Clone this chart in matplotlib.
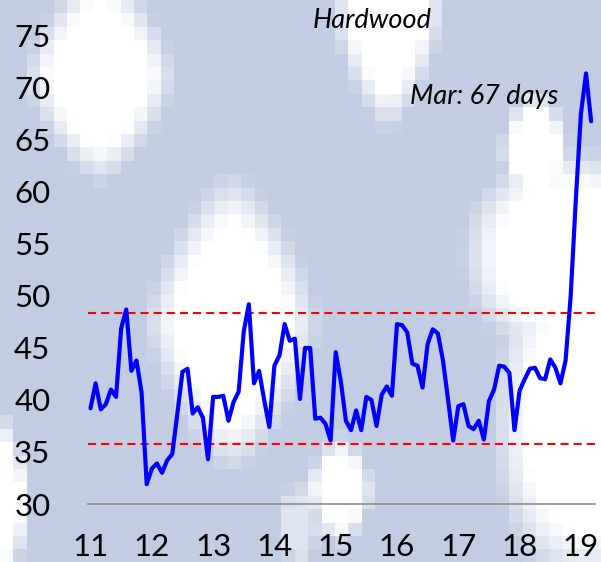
import numpy as np
import matplotlib
matplotlib.use("Agg")
import matplotlib.pyplot as plt
from matplotlib.colors import to_rgb

# ---------------- data ----------------
start_year = 11          # Jan 2011 (axis shows two-digit years)
days_on_market = [
    39.2, 41.6, 39.1, 39.6, 41.0, 40.3, 46.9, 48.7, 42.8, 43.8, 40.7, 31.9,   # 2011
    33.4, 33.9, 33.0, 34.2, 34.8, 38.7, 42.7, 43.0, 38.7, 39.3, 38.3, 34.3,   # 2012
    40.3, 40.3, 40.4, 38.0, 39.8, 40.8, 46.6, 49.2, 41.6, 42.8, 40.0, 37.4,   # 2013
    43.3, 44.3, 47.3, 45.7, 45.9, 40.1, 45.0, 45.0, 38.2, 38.3, 37.7, 36.1,   # 2014
    44.6, 41.8, 38.0, 37.1, 39.0, 37.1, 40.3, 40.0, 37.5, 40.5, 41.3, 40.4,   # 2015
    47.3, 47.2, 46.5, 43.5, 43.3, 41.2, 45.4, 46.8, 46.4, 43.8, 40.0, 36.1,   # 2016
    39.4, 39.6, 37.5, 37.2, 38.0, 36.2, 39.9, 41.0, 43.3, 43.2, 42.6, 37.1,   # 2017
    40.9, 42.0, 43.0, 43.1, 42.1, 42.0, 43.9, 43.1, 41.6, 43.8, 50.0, 59.2,   # 2018
    67.5, 71.4, 66.8,                                                         # 2019
]
upper_band = 48.4
lower_band = 35.8
x_ticks = list(range(11, 20))
y_ticks = list(range(30, 80, 5))
title_text = "Hardwood"
note_text = "Mar: 67 days"

# ------------- decoration (background texture) -------------
# soft white patches on a light blue ground: (x px, y px, rx, ry, norm exponent, strength)
BACKGROUND_BLOBS = [
    (100, 75, 68, 98, 1.4, 1.0),
    (232, 322, 78, 135, 1.4, 1.0),
    (388, 15, 50, 105, 1.4, 1.0),
    (535, 150, 32, 55, 1.6, 1.0),
    (568, 255, 95, 95, 2.0, 1.0),
    (588, 420, 85, 150, 2.2, 1.0),
    (0, 500, 28, 80, 1.6, 1.0),
    (340, 490, 30, 50, 1.6, 1.0),
    (298, 525, 20, 40, 1.6, 0.5),
]
BG_BLUE = to_rgb("#c2cde3")
BG_WHITE = to_rgb("#ffffff")

W, H = 601, 562
fig = plt.figure(figsize=(W / 100, H / 100), dpi=100)

bg = fig.add_axes([0, 0, 1, 1], zorder=0)
bs = 13.4
nx, ny = int(np.ceil(W / bs)), int(np.ceil(H / bs))
X, Y = np.meshgrid((np.arange(nx) + 0.5) * bs, (np.arange(ny) + 0.5) * bs)
w = np.zeros_like(X)
for bx, by, rx, ry, p, k in BACKGROUND_BLOBS:
    d = (np.abs((X - bx) / rx) ** p + np.abs((Y - by) / ry) ** p) ** (1.0 / p)
    w = np.maximum(w, k * np.clip((1.15 - d) / 0.4, 0, 1))
w = w[..., None]
img = np.array(BG_BLUE) * (1 - w) + np.array(BG_WHITE) * w
bg.imshow(img, extent=(0, nx * bs, ny * bs, 0), interpolation="nearest", aspect="auto")
bg.set_xlim(0, W)
bg.set_ylim(H, 0)
bg.axis("off")

# ------------- chart -------------
plt.rcParams["font.family"] = ["Lato", "DejaVu Sans"]

ax = fig.add_axes([88 / W, 58 / H, 507 / W, 504 / H], zorder=1)
ax.patch.set_alpha(0)

months = start_year + np.arange(len(days_on_market)) / 12.0
ax.plot(months, days_on_market, color="#0000ff", lw=3.0, solid_joinstyle="round",
        solid_capstyle="round", clip_on=False, zorder=3)
for lvl in (upper_band, lower_band):
    ax.axhline(lvl, color="#ff0000", lw=1.5, dashes=(3.9, 2.4), zorder=2)

ax.set_xlim(10.959, 19.23)
ax.set_ylim(30, 78.46)
ax.set_xticks(x_ticks)
ax.set_xticklabels([str(t) for t in x_ticks])
ax.set_yticks(y_ticks)
ax.set_yticklabels([str(t) for t in y_ticks])
ax.tick_params(axis="both", length=0, labelsize=22.5, colors="black")
ax.tick_params(axis="y", pad=27)
ax.tick_params(axis="x", pad=21)
for s in ("top", "right", "left"):
    ax.spines[s].set_visible(False)
ax.spines["bottom"].set_color("#8c8c8c")
ax.spines["bottom"].set_linewidth(1.2)

fig.text(372 / W, 1 - 20 / H, title_text, fontsize=19.5, style="italic",
         ha="center", va="center")
fig.text(484 / W, 1 - 97 / H, note_text, fontsize=19.5, style="italic",
         ha="center", va="center")

fig.savefig("out.png", dpi=100)
